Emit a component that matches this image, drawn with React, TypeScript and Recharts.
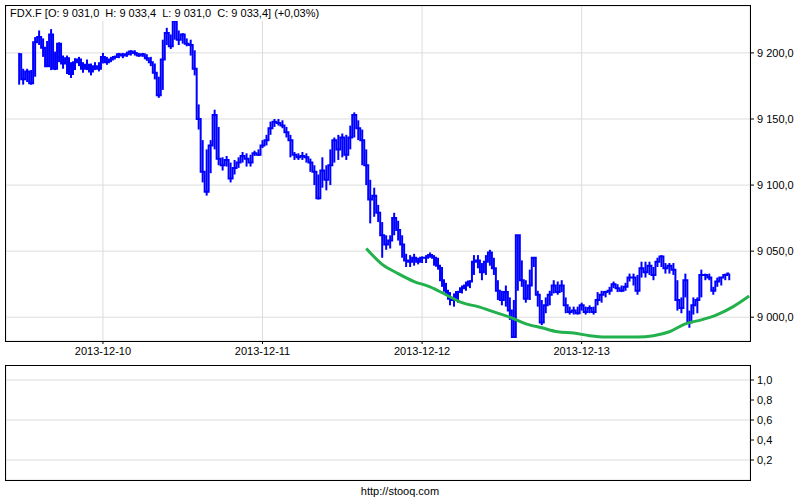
import React from 'react';
import {
  ComposedChart,
  Line,
  Bar,
  XAxis,
  YAxis,
  CartesianGrid
} from 'recharts';

// trading days (index of the first bar of each day)
const dayLabels = ['2013-12-10', '2013-12-11', '2013-12-12', '2013-12-13'];
const dayStarts = [21, 61, 101, 141];

const priceTicks = [9000, 9050, 9100, 9150, 9200];
const lowerTicks = [0.2, 0.4, 0.6, 0.8, 1.0];

// FDX.F intraday bars: close, high, low
const closes = [
  9199, 9180, 9186, 9177, 9208, 9212, 9204, 9190, 9214, 9188,
  9207, 9192, 9196, 9184, 9193, 9195, 9188, 9191, 9186, 9190,
  9188, 9197, 9193, 9195, 9197, 9199, 9198, 9199, 9201, 9200,
  9198, 9199, 9196, 9193, 9185, 9168, 9195, 9215, 9205, 9224,
  9210, 9214, 9207, 9206, 9188, 9150, 9110, 9095, 9130, 9153,
  9120, 9115, 9119, 9105, 9113, 9117, 9122, 9120, 9117, 9124,
  9123, 9130, 9134, 9143, 9148, 9147, 9145, 9140, 9134, 9123,
  9121, 9122, 9121, 9117, 9110, 9090, 9111, 9104, 9115, 9134,
  9127, 9136, 9123, 9136, 9153, 9143, 9134, 9115, 9089, 9092,
  9079, 9062, 9055, 9058, 9075, 9066, 9055, 9043, 9042, 9045,
  9042, 9045, 9045, 9047, 9045, 9039, 9028, 9020, 9014, 9013,
  9019, 9022, 9024, 9027, 9042, 9043, 9034, 9042, 9049, 9037,
  9020, 9013, 9019, 9005, 8985, 9062, 9028, 9014, 9024, 9045,
  9017, 8996, 9009, 9017, 9024, 9019, 9024, 9009, 9004, 9005,
  9003, 9009, 9004, 9007, 9004, 9013, 9017, 9019, 9020, 9025,
  9022, 9020, 9023, 9030, 9030, 9020, 9037, 9034, 9039, 9032,
  9042, 9046, 9037, 9039, 9036, 9013, 9007, 9028, 8996, 9009,
  9013, 9032, 9032, 9030, 9020, 9027, 9030, 9032, 9033
];

const highs = [
  9200, 9188, 9188, 9187, 9212, 9217, 9211, 9209, 9218, 9201,
  9208, 9198, 9198, 9193, 9196, 9197, 9193, 9195, 9192, 9193,
  9193, 9200, 9197, 9197, 9198, 9200, 9200, 9201, 9202, 9202,
  9200, 9200, 9199, 9197, 9192, 9182, 9210, 9219, 9214, 9225,
  9217, 9215, 9211, 9210, 9202, 9161, 9134, 9127, 9134, 9157,
  9144, 9121, 9122, 9117, 9119, 9121, 9125, 9124, 9123, 9126,
  9127, 9134, 9138, 9148, 9150, 9150, 9149, 9144, 9138, 9125,
  9124, 9125, 9124, 9120, 9115, 9108, 9121, 9115, 9127, 9136,
  9138, 9139, 9138, 9145, 9155, 9149, 9142, 9127, 9104, 9098,
  9085, 9072, 9062, 9062, 9079, 9073, 9062, 9048, 9047, 9048,
  9045, 9046, 9047, 9049, 9047, 9045, 9038, 9026, 9019, 9018,
  9020, 9024, 9027, 9028, 9047, 9047, 9041, 9047, 9051, 9045,
  9028, 9020, 9024, 9015, 9013, 9062, 9043, 9028, 9036, 9045,
  9020, 9013, 9015, 9020, 9028, 9027, 9028, 9015, 9008, 9008,
  9008, 9011, 9008, 9009, 9008, 9019, 9020, 9020, 9023, 9027,
  9025, 9024, 9026, 9033, 9033, 9032, 9042, 9042, 9042, 9038,
  9045, 9047, 9041, 9041, 9041, 9028, 9015, 9033, 9005, 9015,
  9015, 9036, 9033, 9033, 9023, 9030, 9030, 9033, 9033
];

const lows = [
  9176, 9176, 9178, 9176, 9182, 9206, 9197, 9190, 9187, 9187,
  9193, 9188, 9184, 9181, 9187, 9190, 9185, 9187, 9183, 9187,
  9186, 9192, 9191, 9193, 9195, 9196, 9196, 9197, 9198, 9198,
  9197, 9197, 9194, 9190, 9180, 9166, 9172, 9206, 9203, 9210,
  9206, 9207, 9205, 9198, 9183, 9142, 9102, 9092, 9109, 9127,
  9115, 9111, 9114, 9102, 9108, 9113, 9117, 9114, 9114, 9122,
  9122, 9128, 9130, 9138, 9144, 9145, 9143, 9136, 9121, 9119,
  9119, 9119, 9117, 9110, 9100, 9089, 9098, 9096, 9100, 9117,
  9119, 9121, 9119, 9127, 9136, 9134, 9115, 9100, 9071, 9076,
  9072, 9045, 9051, 9052, 9062, 9058, 9045, 9038, 9038, 9039,
  9040, 9041, 9041, 9045, 9039, 9036, 9023, 9017, 9009, 9008,
  9011, 9018, 9020, 9022, 9032, 9037, 9028, 9032, 9039, 9032,
  9013, 9009, 9008, 8998, 8985, 9020, 9023, 9011, 9013, 9038,
  9008, 8994, 9003, 9009, 9018, 9017, 9019, 9003, 9002, 9002,
  9002, 9005, 9002, 9003, 9002, 9009, 9011, 9015, 9017, 9022,
  9019, 9019, 9020, 9027, 9024, 9017, 9030, 9030, 9032, 9028,
  9038, 9038, 9033, 9033, 9032, 9005, 9003, 9015, 8992, 9002,
  9003, 9015, 9028, 9028, 9017, 9023, 9024, 9028, 9028
];

// moving average, starts at bar 87, one value every 4 bars
const maStart = 87;
const maStep = 4;
const maValues = [
  9052, 9040, 9033, 9027, 9023, 9017, 9011, 9008, 9004, 9000,
  8995, 8992, 8989, 8988, 8986, 8985, 8985, 8985, 8986, 8989,
  8995, 8998, 9002, 9008, 9016
];

const lastIndex = maStart + maStep * (maValues.length - 1);
const rows = Array.from({ length: lastIndex + 1 }, (_, i) => {
  const k = (i - maStart) / maStep;
  const has = i < closes.length;
  return {
    i,
    close: has ? closes[i] : null,
    range: has ? [lows[i], highs[i]] : null,
    ma: i >= maStart && Number.isInteger(k) ? maValues[k] : null
  };
});

const xDomain: [number, number] = [-3.3, 183.2];
const font = 'Arial, "Liberation Sans", sans-serif';
const tickStyle = { fontSize: 11, fill: '#000', fontFamily: font };

const fmtPrice = (v: number) => {
  const s = v.toFixed(1).replace('.', ',');
  const [a, b] = s.split(',');
  return a.replace(/\B(?=(\d{3})+(?!\d))/g, ' ') + ',' + b;
};
const fmtDay = (v: number) => dayLabels[dayStarts.indexOf(v)] ?? '';

const frame: React.CSSProperties = { position: 'absolute', border: '1px solid #000', pointerEvents: 'none' };

export default function App() {
  return (
    <div style={{ position: 'absolute', left: 0, top: 0, width: 800, height: 500, background: '#fff', fontFamily: font }}>
      <div style={{ position: 'absolute', left: 0, top: 0 }}>
        <ComposedChart width={800} height={360} data={rows} margin={{ top: 6, right: 0, left: 6, bottom: 0 }}>
          <CartesianGrid stroke="#dcdcdc" strokeWidth={1} />
          <XAxis
            dataKey="i"
            type="number"
            domain={xDomain}
            allowDataOverflow
            ticks={dayStarts}
            tickFormatter={fmtDay}
            tick={tickStyle}
            tickSize={3}
            tickMargin={3}
            height={19}
            axisLine={false}
            tickLine={{ stroke: '#000' }}
          />
          <YAxis
            orientation="right"
            type="number"
            domain={[8982, 9235.5]}
            allowDataOverflow
            ticks={priceTicks}
            tickFormatter={fmtPrice}
            tick={{ ...tickStyle, textAnchor: 'start' }}
            tickSize={4}
            tickMargin={3}
            width={50}
            axisLine={false}
            tickLine={{ stroke: '#000' }}
          />
          <Bar dataKey="range" fill="#0000ff" barSize={2} isAnimationActive={false} />
          <Line dataKey="close" stroke="#0000ff" strokeWidth={2} dot={false} type="step" isAnimationActive={false} />
          <Line dataKey="ma" stroke="#22b14c" strokeWidth={3} dot={false} type="monotone" connectNulls isAnimationActive={false} />
        </ComposedChart>
      </div>
      <div style={{ ...frame, left: 5, top: 5, width: 744, height: 335 }} />
      <div style={{ position: 'absolute', left: 9, top: 6, height: 15, lineHeight: '15px', fontSize: 11, background: '#fff', whiteSpace: 'pre', padding: '0 1px' }}>
        {'FDX.F [O: 9 031,0  H: 9 033,4  L: 9 031,0  C: 9 033,4] (+0,03%)'}
      </div>

      <div style={{ position: 'absolute', left: 0, top: 365 }}>
        <ComposedChart width={800} height={115} data={rows} margin={{ top: 0, right: 0, left: 6, bottom: 0 }}>
          <CartesianGrid stroke="#dcdcdc" strokeWidth={1} />
          <XAxis
            dataKey="i"
            type="number"
            domain={xDomain}
            allowDataOverflow
            ticks={dayStarts}
            height={0}
            tick={false}
            tickLine={false}
            axisLine={false}
          />
          <YAxis
            orientation="right"
            type="number"
            domain={[0, 1.15]}
            allowDataOverflow
            ticks={lowerTicks}
            tickFormatter={(v: number) => v.toFixed(1).replace('.', ',')}
            tick={{ ...tickStyle, textAnchor: 'start' }}
            tickSize={4}
            tickMargin={3}
            width={50}
            axisLine={false}
            tickLine={{ stroke: '#000' }}
          />
        </ComposedChart>
      </div>
      <div style={{ ...frame, left: 5, top: 365, width: 744, height: 114 }} />

      <div style={{ position: 'absolute', left: 0, width: 800, top: 485, textAlign: 'center', fontSize: 11 }}>
        http://stooq.com
      </div>
    </div>
  );
}
